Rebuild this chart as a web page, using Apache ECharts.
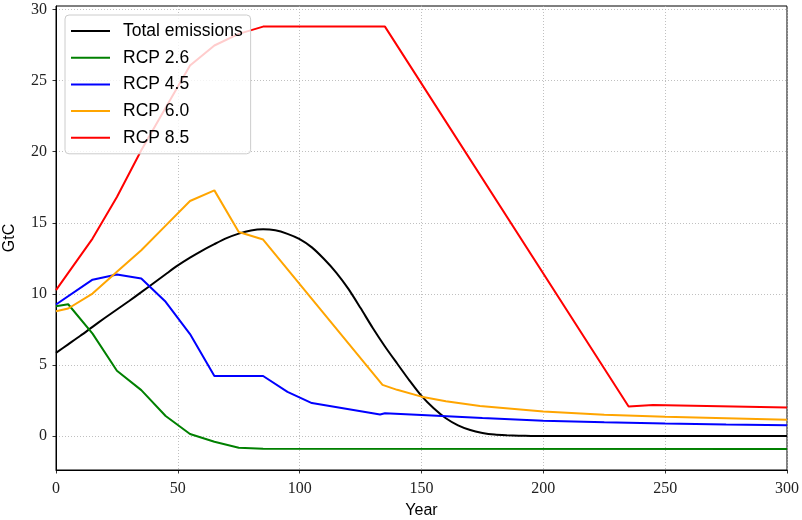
<!DOCTYPE html>
<html>
<head>
<meta charset="utf-8">
<script src="https://cdn.jsdelivr.net/npm/echarts@6/dist/echarts.min.js"></script>
<style>html,body{margin:0;padding:0;background:#fff}#c{width:802px;height:520px}</style>
</head>
<body>
<div id="c"></div>
<script>
// ---- data ----
const totalYears = [0,5,10,15,20,25,30,35,40,45,50,55,60,65,70,75,80,85,90,95,100,105,110,115,120,125,130,135,140,145,150,155,160,165,170,175,180,185,190,195,200,250,300];
const totalVals  = [5.85,6.45,7.05,7.68,8.3,8.9,9.5,10.12,10.75,11.38,12.0,12.55,13.05,13.5,13.92,14.24,14.46,14.54,14.47,14.22,13.85,13.27,12.45,11.5,10.35,9.0,7.6,6.3,5.1,3.92,2.82,1.95,1.25,0.75,0.42,0.22,0.1,0.05,0.02,0.01,0,0,0];

const rcp26Years = [0,5,15,25,35,45,55,65,75,85,300];
const rcp26Vals  = [9.13,9.27,7.2,4.59,3.23,1.41,0.14,-0.4,-0.82,-0.9,-0.92];

const rcp45Years = [0,15,25,35,45,55,65,85,95,105,133,135,150,175,200,225,250,275,300];
const rcp45Vals  = [9.25,11.0,11.36,11.08,9.44,7.17,4.22,4.22,3.11,2.32,1.52,1.6,1.48,1.26,1.08,0.97,0.88,0.81,0.75];

const rcp60Years = [0,5,15,25,35,45,55,65,75,85,134,140,150,160,174,200,225,250,275,300];
const rcp60Vals  = [8.78,8.97,10.02,11.55,13.07,14.8,16.53,17.28,14.35,13.82,3.6,3.25,2.77,2.45,2.11,1.72,1.5,1.36,1.25,1.15];

const rcp85Years = [0,15,25,35,45,55,65,75,85,135,235,245,300];
const rcp85Vals  = [10.26,13.89,16.82,20.1,23.1,26.07,27.47,28.29,28.8,28.8,2.08,2.18,2.0];

const xTicks = [0,50,100,150,200,250,300];
const yTicks = [0,5,10,15,20,25,30];

const seriesNames = ['Total emissions','RCP 2.6','RCP 4.5','RCP 6.0','RCP 8.5'];
// ---- end data ----

const zip = (xs, ys) => xs.map((x, i) => [x, ys[i]]);
const colors = ['#000000', '#008000', '#0000ff', '#ffa500', '#ff0000'];
const datasets = [
  zip(totalYears, totalVals),
  zip(rcp26Years, rcp26Vals),
  zip(rcp45Years, rcp45Vals),
  zip(rcp60Years, rcp60Vals),
  zip(rcp85Years, rcp85Vals)
];

const serif = '"Liberation Serif", "DejaVu Serif", serif';
const sans = '"Liberation Sans", "DejaVu Sans", sans-serif';
const gridLine = { show: true, lineStyle: { color: '#b0b0b0', width: 0.8, type: [1, 2] } };

const chart = echarts.init(document.getElementById('c'), null, { renderer: 'canvas' });
chart.setOption({
  animation: false,
  backgroundColor: '#ffffff',
  grid: {
    left: 56, right: 15, top: 6, bottom: 50,
    outerBoundsMode: 'none', containLabel: false,
    show: true, borderColor: '#000000', borderWidth: 1, backgroundColor: 'transparent'
  },
  legend: {
    data: seriesNames.map(n => ({ name: n, icon: 'rect' })),
    orient: 'vertical',
    left: 65, top: 15,
    padding: [6, 8, 6, 6],
    itemWidth: 39, itemHeight: 2, itemGap: 6.7,
    backgroundColor: 'rgba(255,255,255,0.8)',
    borderColor: '#cccccc', borderWidth: 1, borderRadius: 4,
    textStyle: { fontFamily: sans, fontSize: 17.5, color: '#000', lineHeight: 20, padding: [0, 0, 0, 8] }
  },
  xAxis: {
    type: 'value', min: 0, max: 300, interval: 50,
    name: 'Year', nameLocation: 'middle', nameGap: 33,
    nameTextStyle: { fontFamily: sans, fontSize: 16, color: '#000' },
    axisLine: { show: true, onZero: false, lineStyle: { color: '#000', width: 1 } },
    axisTick: { show: true, length: 3.5, lineStyle: { color: '#000', width: 0.8 } },
    axisLabel: { fontFamily: serif, fontSize: 16, color: '#222', margin: 11, customValues: xTicks },
    splitLine: gridLine
  },
  yAxis: {
    type: 'value', min: -2.39, max: 30.25,
    name: 'GtC', nameLocation: 'middle', nameGap: 38,
    nameTextStyle: { fontFamily: sans, fontSize: 16, color: '#000' },
    axisLine: { show: true, onZero: false, lineStyle: { color: '#000', width: 1 } },
    axisTick: { show: true, length: 3.5, lineStyle: { color: '#000', width: 0.8 }, customValues: yTicks },
    axisLabel: { fontFamily: serif, fontSize: 16, color: '#222', margin: 9, customValues: yTicks },
    splitLine: gridLine
  },
  series: seriesNames.map((name, i) => ({
    name: name,
    type: 'line',
    data: datasets[i],
    symbol: 'none',
    smooth: i === 0 ? 0.25 : false,
    color: colors[i],
    lineStyle: { color: colors[i], width: 2 },
    itemStyle: { color: colors[i] },
    emphasis: { disabled: true }
  }))
});
</script>
</body>
</html>
